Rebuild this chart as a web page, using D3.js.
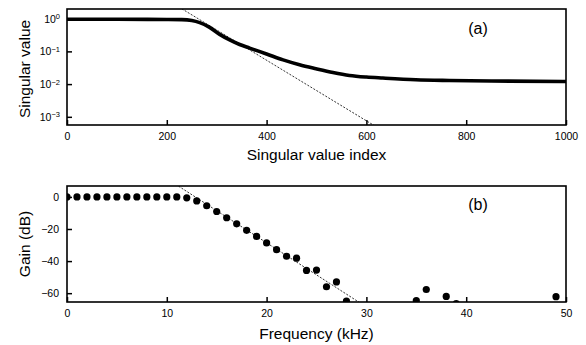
<!DOCTYPE html>
<html>
<head>
<meta charset="utf-8">
<script src="https://cdn.jsdelivr.net/npm/d3@7"></script>
<style>
  body { margin: 0; background: #fff; }
  svg { font-family: "Liberation Sans", Arial, sans-serif; }
</style>
</head>
<body>
<svg id="chart" width="586" height="345"></svg>
<script>
// (a) singular value spectrum
const svIndex = [0, 100, 200, 230, 250, 266, 285, 306, 326, 346, 366, 400, 433, 466, 499, 533, 566, 600, 633, 699, 766, 850, 1000];
const svValue = [0.955, 0.955, 0.944, 0.933, 0.881, 0.759, 0.55, 0.331, 0.224, 0.162, 0.126, 0.0832, 0.055, 0.039, 0.0295, 0.0226, 0.0184, 0.0164, 0.0153, 0.0136, 0.0129, 0.0124, 0.012];
const svFitIndex = [200, 650];
const svFitValue = [3.8, 0.00026];
const svTicksX = [0, 200, 400, 600, 800, 1000];
const svTicksY = [0, -1, -2, -3];

// (b) gain vs frequency
const freq = [0, 1, 2, 3, 4, 5, 6, 7, 8, 9, 10, 11, 12, 13, 14, 15, 16, 17, 18, 19, 20, 21, 22, 23, 24, 25, 26, 27, 28, 35, 36, 38, 39, 49];
const gain = [0, 0, 0, 0, 0, 0, 0, 0, 0, 0, 0, 0, -0.6, -2.5, -5.5, -9.1, -13, -16.8, -20.8, -24.6, -28.7, -32.9, -37, -38.2, -45.8, -45.6, -56, -53, -65, -64.6, -57.7, -62, -66.5, -62.2];
const gainFitFreq = [10, 31];
const gainFitDb = [11.4, -72.6];
const freqTicks = [0, 10, 20, 30, 40, 50];
const gainTicks = [0, -20, -40, -60];

const svg = d3.select("#chart");
const left = 67, right = 566;
const tickFont = 10.5, labelFont = 15.5;

function frame(g, w, h, id) {
  g.append("clipPath").attr("id", id)
    .append("rect").attr("width", w).attr("height", h);
}

function box(g, w, h) {
  g.append("rect")
    .attr("width", w).attr("height", h)
    .attr("fill", "none").attr("stroke", "#000").attr("stroke-width", 1.6);
}

function styleAxis(a) {
  a.select(".domain").remove();
  a.selectAll(".tick line").attr("stroke-width", 1.5);
  a.selectAll("text").attr("font-size", tickFont).attr("font-family", "Liberation Sans, Arial");
}

// ---- panel (a)
{
  const top = 9, bottom = 125;
  const w = right - left, h = bottom - top;
  const g = svg.append("g").attr("transform", `translate(${left},${top})`);
  frame(g, w, h, "clipA");

  const x = d3.scaleLinear().domain([0, 1000]).range([0, w]);
  const y = d3.scaleLog().domain([10 ** -3.25, 10 ** 0.295]).range([h, 0]);

  const plot = g.append("g").attr("clip-path", "url(#clipA)");
  plot.append("path")
    .datum(d3.zip(svFitIndex, svFitValue))
    .attr("fill", "none").attr("stroke", "#000").attr("stroke-width", 0.8)
    .attr("stroke-dasharray", "2,1.5")
    .attr("d", d3.line().x(d => x(d[0])).y(d => y(d[1])));
  plot.append("path")
    .datum(d3.zip(svIndex, svValue))
    .attr("fill", "none").attr("stroke", "#000").attr("stroke-width", 3.6)
    .attr("stroke-linejoin", "round")
    .attr("d", d3.line().curve(d3.curveMonotoneX).x(d => x(d[0])).y(d => y(d[1])));

  const xAxis = g.append("g").attr("transform", `translate(0,${h})`)
    .call(d3.axisBottom(x).tickValues(svTicksX).tickFormat(d3.format("d")).tickSize(-5).tickPadding(8));
  styleAxis(xAxis);

  const yAxis = g.append("g")
    .call(d3.axisLeft(y).tickValues(svTicksY.map(e => 10 ** e)).tickSize(-5).tickFormat(""));
  styleAxis(yAxis);
  yAxis.selectAll(".tick").each(function(d) {
    const p = Math.round(Math.log10(d));
    const t = d3.select(this).append("text")
      .attr("x", -7).attr("dy", "0.32em")
      .attr("text-anchor", "end").attr("fill", "#000")
      .attr("font-size", tickFont).attr("font-family", "Liberation Sans, Arial");
    t.append("tspan").text("10");
    t.append("tspan").attr("dy", "-0.45em").attr("font-size", 7.5)
      .text(p === 0 ? "0" : "\u2212" + Math.abs(p));
  });

  box(g, w, h);

  g.append("text").attr("x", w / 2).attr("y", 160 - top)
    .attr("text-anchor", "middle").attr("font-size", labelFont).text("Singular value index");
  g.append("text").attr("transform", `translate(${25 - left},${h / 2 + 2}) rotate(-90)`)
    .attr("text-anchor", "middle").attr("dy", "0.35em").attr("font-size", labelFont).text("Singular value");
  g.append("text").attr("x", 478 - left).attr("y", 34 - top)
    .attr("text-anchor", "middle").attr("font-size", 16).text("(a)");
}

// ---- panel (b)
{
  const top = 186, bottom = 302;
  const w = right - left, h = bottom - top;
  const g = svg.append("g").attr("transform", `translate(${left},${top})`);
  frame(g, w, h, "clipB");

  const x = d3.scaleLinear().domain([0, 50]).range([0, w]);
  const y = d3.scaleLinear().domain([-65.5, 6.8]).range([h, 0]);

  const plot = g.append("g").attr("clip-path", "url(#clipB)");
  plot.append("path")
    .datum(d3.zip(gainFitFreq, gainFitDb))
    .attr("fill", "none").attr("stroke", "#000").attr("stroke-width", 0.8)
    .attr("stroke-dasharray", "2,1.5")
    .attr("d", d3.line().x(d => x(d[0])).y(d => y(d[1])));
  plot.selectAll("circle")
    .data(d3.zip(freq, gain))
    .join("circle")
    .attr("cx", d => x(d[0])).attr("cy", d => y(d[1]))
    .attr("r", 3.6).attr("fill", "#000");

  const xAxis = g.append("g").attr("transform", `translate(0,${h})`)
    .call(d3.axisBottom(x).tickValues(freqTicks).tickSize(-5).tickPadding(8));
  styleAxis(xAxis);

  const yAxis = g.append("g")
    .call(d3.axisLeft(y).tickValues(gainTicks).tickSize(-5).tickPadding(8));
  styleAxis(yAxis);

  box(g, w, h);

  g.append("text").attr("x", w / 2).attr("y", 339 - top)
    .attr("text-anchor", "middle").attr("font-size", labelFont).text("Frequency (kHz)");
  g.append("text").attr("transform", `translate(${25 - left},${h / 2}) rotate(-90)`)
    .attr("text-anchor", "middle").attr("dy", "0.35em").attr("font-size", labelFont).text("Gain (dB)");
  g.append("text").attr("x", 478 - left).attr("y", 210 - top)
    .attr("text-anchor", "middle").attr("font-size", 16).text("(b)");
}
</script>
</body>
</html>
